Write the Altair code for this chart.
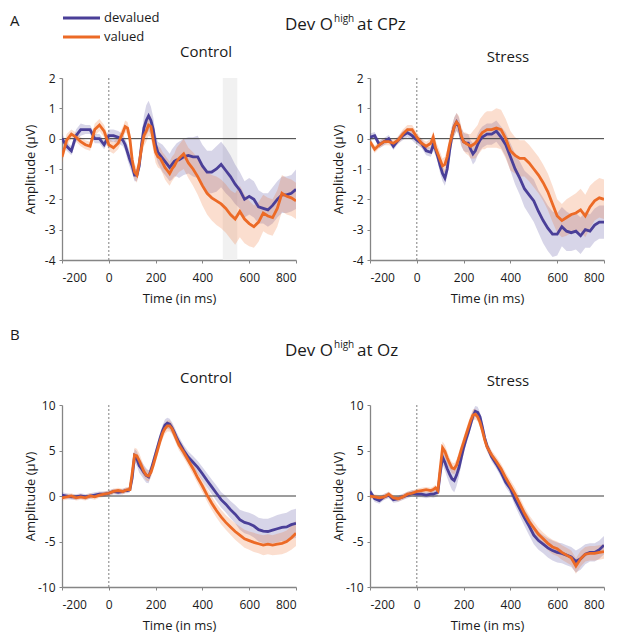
import altair as alt
import pandas as pd

# ---------------- data ----------------
T = [-200, -180, -160, -140, -120, -100, -80, -60, -40, -20, 0, 20, 40, 60,
     70, 80, 90, 100, 110, 120, 130, 140, 150, 160, 170, 180, 190, 200, 210, 220,
     230, 240, 250, 260, 270, 280, 290, 300,
     320, 340, 360, 380, 400, 420, 440, 460, 480, 500, 520, 540, 560, 580, 600,
     620, 640, 660, 680, 700, 720, 740, 760, 780, 800]

# A: CPz, Control
A_CTRL_DEV = [0.0, -0.25, -0.4, 0.1, 0.3, 0.3, 0.3, 0.0, 0.0, -0.2, 0.1, 0.1, 0.05, -0.05,
              -0.2, -0.45, -0.7, -0.9, -1.2, -1.2, -0.9, -0.2, 0.35, 0.6, 0.75, 0.6, 0.3, -0.2, -0.45, -0.55,
              -0.65, -0.75, -0.85, -0.95, -0.85, -0.75, -0.7, -0.7,
              -0.6, -0.55, -0.6, -0.6, -0.9, -1.1, -1.1, -1.0, -0.85, -1.05, -1.25, -1.5, -1.7, -2.0, -1.9,
              -2.0, -2.25, -2.3, -2.35, -2.2, -2.0, -1.85, -1.85, -1.8, -1.67]
A_CTRL_DEV_SE = [0.15, 0.15, 0.15, 0.2, 0.2, 0.15, 0.15, 0.15, 0.15, 0.15, 0.2, 0.2, 0.2, 0.2,
                 0.2, 0.25, 0.25, 0.25, 0.2, 0.2, 0.25, 0.3, 0.4, 0.5, 0.5, 0.45, 0.4, 0.35, 0.35, 0.4,
                 0.45, 0.45, 0.45, 0.45, 0.5, 0.5, 0.55, 0.6,
                 0.6, 0.6, 0.65, 0.7, 0.7, 0.7, 0.7, 0.75, 0.75, 0.75, 0.7, 0.65, 0.6, 0.6, 0.6,
                 0.6, 0.55, 0.5, 0.55, 0.6, 0.6, 0.6, 0.6, 0.6, 0.65]
A_CTRL_VAL = [-0.6, -0.05, 0.15, 0.05, -0.1, -0.2, -0.25, 0.3, 0.45, 0.25, -0.2, -0.3, -0.15, 0.2,
              0.4, 0.35, 0.0, -0.7, -1.1, -1.2, -0.8, -0.3, 0.1, 0.25, 0.45, 0.4, -0.05, -0.45, -0.6, -0.65,
              -0.8, -0.95, -1.05, -1.15, -1.0, -0.9, -0.75, -0.65,
              -0.5, -0.8, -1.0, -1.25, -1.55, -1.8, -1.95, -2.05, -2.15, -2.3, -2.5, -2.65, -2.4, -2.65, -2.8,
              -2.9, -2.75, -2.45, -2.55, -2.6, -2.3, -1.8, -1.9, -1.95, -2.05]
A_CTRL_VAL_SE = [0.2, 0.2, 0.15, 0.15, 0.15, 0.15, 0.15, 0.2, 0.2, 0.2, 0.2, 0.2, 0.2, 0.2,
                 0.2, 0.2, 0.25, 0.25, 0.25, 0.25, 0.25, 0.3, 0.35, 0.35, 0.35, 0.35, 0.35, 0.35, 0.35, 0.35,
                 0.35, 0.4, 0.4, 0.4, 0.4, 0.4, 0.45, 0.45,
                 0.5, 0.5, 0.55, 0.6, 0.65, 0.7, 0.75, 0.8, 0.8, 0.8, 0.8, 0.85, 0.85, 0.8, 0.75,
                 0.7, 0.65, 0.6, 0.6, 0.6, 0.6, 0.6, 0.6, 0.6, 0.6]

# A: CPz, Stress
A_STR_DEV = [0.05, 0.1, -0.2, -0.1, 0.0, -0.25, -0.05, 0.1, 0.2, 0.1, -0.05, -0.15, -0.4, -0.45,
             -0.2, -0.35, -0.6, -0.9, -1.15, -1.3, -1.0, -0.4, 0.1, 0.4, 0.55, 0.4, 0.05, -0.1, -0.15, -0.15,
             -0.35, -0.5, -0.4, -0.2, -0.05, 0.05, 0.1, 0.15,
             0.15, 0.25, 0.05, -0.2, -0.6, -1.0, -1.3, -1.65, -1.85, -2.05, -2.4, -2.7, -2.95, -3.15, -3.15,
             -2.9, -3.05, -3.1, -3.05, -3.2, -3.0, -3.05, -2.85, -2.75, -2.75]
A_STR_DEV_SE = [0.12, 0.12, 0.12, 0.12, 0.12, 0.12, 0.12, 0.15, 0.15, 0.15, 0.15, 0.15, 0.15, 0.15,
                0.2, 0.2, 0.2, 0.25, 0.25, 0.25, 0.25, 0.3, 0.3, 0.3, 0.3, 0.3, 0.3, 0.3, 0.3, 0.3,
                0.3, 0.35, 0.35, 0.35, 0.35, 0.35, 0.35, 0.35,
                0.35, 0.35, 0.35, 0.4, 0.45, 0.5, 0.55, 0.6, 0.65, 0.7, 0.7, 0.75, 0.75, 0.75, 0.7,
                0.65, 0.65, 0.6, 0.6, 0.6, 0.6, 0.55, 0.55, 0.55, 0.55]
A_STR_VAL = [-0.1, -0.35, -0.2, -0.1, -0.1, -0.15, -0.05, 0.15, 0.3, 0.3, 0.05, -0.15, -0.25, -0.15,
             0.05, -0.3, -0.5, -0.7, -0.9, -0.85, -0.6, -0.2, 0.1, 0.4, 0.55, 0.45, 0.1, -0.1, -0.15, -0.2,
             -0.25, -0.2, -0.15, -0.05, 0.1, 0.2, 0.25, 0.3,
             0.3, 0.35, 0.3, 0.0, -0.4, -0.55, -0.65, -0.65, -0.8, -1.0, -1.2, -1.45, -1.75, -2.15, -2.55,
             -2.7, -2.6, -2.5, -2.45, -2.35, -2.55, -2.25, -2.05, -1.95, -2.0]
A_STR_VAL_SE = [0.12, 0.12, 0.12, 0.12, 0.12, 0.12, 0.12, 0.15, 0.15, 0.15, 0.15, 0.15, 0.15, 0.15,
                0.2, 0.25, 0.25, 0.25, 0.25, 0.25, 0.25, 0.3, 0.3, 0.3, 0.3, 0.3, 0.3, 0.3, 0.35, 0.35,
                0.4, 0.45, 0.5, 0.5, 0.55, 0.55, 0.6, 0.6,
                0.6, 0.65, 0.65, 0.65, 0.65, 0.6, 0.6, 0.6, 0.6, 0.6, 0.6, 0.6, 0.6, 0.6, 0.55,
                0.55, 0.6, 0.6, 0.65, 0.7, 0.7, 0.7, 0.65, 0.65, 0.65]

# B: Oz, Control
B_CTRL_DEV = [0.1, 0.0, -0.1, -0.1, 0.0, -0.1, 0.0, 0.1, 0.2, 0.2, 0.3, 0.5, 0.4, 0.5,
              0.6, 0.6, 0.7, 2.0, 4.4, 4.1, 3.35, 3.0, 2.6, 2.25, 2.1, 2.8, 3.7, 4.6, 5.5, 6.4,
              7.2, 7.8, 8.0, 7.9, 7.5, 7.0, 6.4, 5.9,
              5.0, 4.25, 3.7, 3.15, 2.45, 1.7, 1.0, 0.3, -0.4, -0.9, -1.5, -2.0, -2.6, -2.9, -3.05,
              -3.3, -3.7, -3.85, -3.9, -3.75, -3.6, -3.45, -3.4, -3.15, -3.0]
B_CTRL_DEV_SE = [0.3, 0.3, 0.3, 0.3, 0.3, 0.3, 0.3, 0.3, 0.3, 0.3, 0.3, 0.3, 0.3, 0.3,
                 0.3, 0.3, 0.3, 0.5, 0.8, 0.8, 0.8, 0.8, 0.8, 0.8, 0.7, 0.6, 0.6, 0.6, 0.6, 0.6,
                 0.6, 0.6, 0.6, 0.6, 0.6, 0.6, 0.6, 0.6,
                 0.6, 0.65, 0.7, 0.7, 0.75, 0.8, 0.8, 0.85, 0.85, 0.9, 0.95, 1.0, 1.1, 1.2, 1.2,
                 1.25, 1.3, 1.35, 1.4, 1.45, 1.5, 1.5, 1.55, 1.6, 1.6]
B_CTRL_VAL = [-0.2, -0.1, 0.0, -0.2, -0.1, -0.2, 0.0, -0.1, 0.1, 0.2, 0.3, 0.5, 0.6, 0.5,
              0.6, 0.7, 0.7, 2.5, 4.5, 4.4, 3.9, 3.3, 2.7, 2.3, 2.2, 2.6, 3.4, 4.3, 5.2, 6.1,
              6.9, 7.4, 7.7, 7.7, 7.4, 6.8, 6.2, 5.6,
              4.8, 3.9, 3.0, 2.0, 1.1, 0.1, -0.8, -1.6, -2.3, -2.9, -3.4, -3.9, -4.3, -4.7, -4.9,
              -5.1, -5.25, -5.4, -5.3, -5.4, -5.3, -5.2, -5.0, -4.6, -4.1]
B_CTRL_VAL_SE = [0.3, 0.3, 0.3, 0.3, 0.3, 0.3, 0.3, 0.3, 0.3, 0.3, 0.3, 0.3, 0.3, 0.3,
                 0.3, 0.3, 0.3, 0.5, 0.8, 0.8, 0.8, 0.7, 0.6, 0.6, 0.6, 0.6, 0.6, 0.6, 0.6, 0.6,
                 0.6, 0.6, 0.6, 0.6, 0.6, 0.6, 0.6, 0.6,
                 0.6, 0.6, 0.65, 0.65, 0.7, 0.7, 0.75, 0.75, 0.8, 0.8, 0.85, 0.9, 0.95, 1.0, 1.0,
                 1.05, 1.05, 1.1, 1.1, 1.1, 1.15, 1.2, 1.2, 1.3, 1.4]

# B: Oz, Stress
B_STR_DEV = [0.5, -0.3, -0.5, -0.1, 0.1, -0.4, -0.3, -0.1, 0.1, 0.3, 0.2, 0.2, 0.1, 0.2,
             0.2, 0.3, 0.4, 2.5, 4.3, 3.7, 3.0, 2.4, 1.9, 1.7, 2.3, 3.1, 4.2, 5.3, 6.2, 7.0,
             7.9, 8.8, 9.3, 9.2, 8.7, 7.6, 6.4, 5.5,
             4.3, 3.5, 2.6, 1.5, 0.8, -0.4, -1.4, -2.4, -3.3, -4.3, -4.9, -5.3, -5.7, -6.0, -6.2,
             -6.3, -6.5, -6.7, -7.2, -6.9, -6.4, -6.2, -6.2, -5.9, -5.4]
B_STR_DEV_SE = [0.35, 0.35, 0.35, 0.35, 0.35, 0.35, 0.35, 0.35, 0.35, 0.35, 0.35, 0.35, 0.35, 0.35,
                0.4, 0.4, 0.4, 0.6, 0.8, 0.9, 1.0, 1.1, 1.2, 1.3, 1.2, 1.0, 0.8, 0.7, 0.6, 0.6,
                0.6, 0.6, 0.6, 0.6, 0.5, 0.5, 0.5, 0.5,
                0.5, 0.5, 0.5, 0.55, 0.6, 0.7, 0.8, 0.9, 1.0, 1.0, 1.0, 1.0, 1.05, 1.1, 1.1,
                1.1, 1.1, 1.1, 1.2, 1.2, 1.1, 1.0, 1.0, 1.0, 1.0]
B_STR_VAL = [0.0, -0.1, -0.2, -0.1, 0.2, -0.2, -0.3, -0.1, 0.2, 0.3, 0.5, 0.6, 0.7, 0.6,
             0.7, 0.9, 0.6, 3.0, 5.3, 4.9, 4.2, 3.6, 3.1, 3.0, 3.4, 4.2, 5.1, 5.9, 6.7, 7.5,
             8.3, 8.9, 9.0, 8.7, 8.1, 7.2, 6.2, 5.4,
             4.5, 3.8, 3.0, 2.0, 1.1, 0.2, -0.85, -1.9, -2.8, -3.5, -4.2, -4.7, -5.2, -5.6, -5.8,
             -6.2, -6.5, -6.8, -7.7, -6.9, -6.4, -6.3, -6.3, -6.2, -6.1]
B_STR_VAL_SE = [0.3, 0.3, 0.3, 0.3, 0.3, 0.3, 0.3, 0.3, 0.3, 0.3, 0.3, 0.3, 0.3, 0.3,
                0.35, 0.35, 0.35, 0.5, 0.7, 0.7, 0.7, 0.6, 0.6, 0.6, 0.6, 0.6, 0.6, 0.6, 0.6, 0.6,
                0.6, 0.6, 0.6, 0.5, 0.5, 0.5, 0.5, 0.5,
                0.5, 0.5, 0.55, 0.6, 0.65, 0.7, 0.7, 0.7, 0.7, 0.7, 0.7, 0.7, 0.75, 0.8, 0.8,
                0.8, 0.8, 0.8, 0.85, 0.85, 0.8, 0.8, 0.8, 0.8, 0.8]

SERIES = ["devalued", "valued"]
X_TICKS = [-200, 0, 200, 400, 600, 800]
Y_TICKS_A = [-4, -3, -2, -1, 0, 1, 2]
Y_TICKS_B = [-10, -5, 0, 5, 10]
Y_DOM_A = [-4, 2]
Y_DOM_B = [-10, 10]
SHADE_A_CTRL = [487, 549]   # grey window in ms

# ---------------- styling ----------------
PURPLE = "#4a3f98"
ORANGE = "#ec6a26"
FONT = "Open Sans"
TXT = "#1a1a1a"
W, H = 234, 182

color_scale = alt.Scale(domain=SERIES, range=[PURPLE, ORANGE])


def panel_df(dev, dev_se, val, val_se):
    rows = []
    for name, v, s in (("devalued", dev, dev_se), ("valued", val, val_se)):
        for t, y, e in zip(T, v, s):
            rows.append({"time": t, "series": name, "amp": y, "lo": y - e, "hi": y + e})
    return pd.DataFrame(rows)


x_scale = alt.Scale(domain=[-200, 800], nice=False, zero=False)


def text_layer(label, x, y, size, align="center", baseline="alphabetic"):
    return alt.Chart(pd.DataFrame({"label": [label]})).mark_text(
        align=align, baseline=baseline, fontSize=size, font=FONT, color=TXT
    ).encode(text="label:N", x=alt.value(x), y=alt.value(y))


def legend_layers():
    out = []
    for i, name in enumerate(SERIES):
        d = pd.DataFrame({"series": [name]})
        y = -60 + 19 * i
        out.append(alt.Chart(d).mark_rule(strokeWidth=3).encode(
            x=alt.value(1), x2=alt.value(38), y=alt.value(y),
            stroke=alt.Stroke("series:N", scale=color_scale, legend=None)))
        out.append(alt.Chart(d).mark_text(align="left", baseline="middle", fontSize=13,
                                          font=FONT, color=TXT).encode(
            text="series:N", x=alt.value(42), y=alt.value(y)))
    return out


def panel(df, ydom, yticks, texts, shade=None, legend=False):
    y_scale = alt.Scale(domain=ydom, nice=False, zero=False)
    xax = alt.Axis(values=X_TICKS, title="Time (in ms)", labelExpr="'' + datum.value",
                   labelPadding=9, titlePadding=9)
    yax = alt.Axis(values=yticks, title="Amplitude (μV)", labelExpr="'' + datum.value",
                   labelPadding=4, titleX=-32, titleY=H / 2, titleBaseline="middle",
                   titleAlign="center", titleAngle=270)

    def X(f):
        return alt.X(f, type="quantitative", scale=x_scale, axis=xax)

    def Y(f):
        return alt.Y(f, type="quantitative", scale=y_scale, axis=yax)

    layers = []
    if shade:
        sdf = pd.DataFrame({"s": [shade[0]], "e": [shade[1]], "y1": [ydom[1]], "y2": [ydom[0]]})
        layers.append(alt.Chart(sdf).mark_rect(color="#f1f1f1").encode(
            x=X("s"), x2="e", y=Y("y1"), y2="y2"))
    base = alt.Chart(df)
    layers.append(base.mark_area(opacity=0.22, clip=True).encode(
        x=X("time"), y=Y("lo"), y2="hi",
        fill=alt.Fill("series:N", scale=color_scale, legend=None),
    ))
    zdf = pd.DataFrame({"z": [0]})
    layers.append(alt.Chart(zdf).mark_rule(color="#3a3a3a", strokeWidth=1).encode(y=Y("z")))
    layers.append(alt.Chart(zdf).mark_rule(color="#8a8a8a", strokeWidth=1.1, strokeDash=[2, 2]).encode(x=X("z")))
    layers.append(base.mark_line(strokeWidth=2.8, clip=True).encode(
        x=X("time"), y=Y("amp"),
        stroke=alt.Stroke("series:N", scale=color_scale, legend=None),
    ))
    for t in texts:
        layers.append(text_layer(*t))
    if legend:
        layers.extend(legend_layers())
    return alt.layer(*layers).properties(width=W, height=H)


A_ctrl = panel(panel_df(A_CTRL_DEV, A_CTRL_DEV_SE, A_CTRL_VAL, A_CTRL_VAL_SE), Y_DOM_A, Y_TICKS_A,
               [("A", -52, -64, 15, "left", "top"),
                ("Dev O", 271, -48, 17, "right"),
                ("high", 272, -56, 10, "left"),
                ("at CPz", 295, -48, 17, "left"),
                ("Control", 144, -21, 15)],
               shade=SHADE_A_CTRL, legend=True)
A_str = panel(panel_df(A_STR_DEV, A_STR_DEV_SE, A_STR_VAL, A_STR_VAL_SE), Y_DOM_A, Y_TICKS_A,
              [("Stress", 138, -16, 15)])
B_ctrl = panel(panel_df(B_CTRL_DEV, B_CTRL_DEV_SE, B_CTRL_VAL, B_CTRL_VAL_SE), Y_DOM_B, Y_TICKS_B,
               [("B", -52, -77, 15, "left", "top"),
                ("Dev O", 271, -49, 17, "right"),
                ("high", 272, -57, 10, "left"),
                ("at Oz", 295, -49, 17, "left"),
                ("Control", 144, -22, 15)])
B_str = panel(panel_df(B_STR_DEV, B_STR_DEV_SE, B_STR_VAL, B_STR_VAL_SE), Y_DOM_B, Y_TICKS_B,
              [("Stress", 138, -19, 15)])

rowA = alt.hconcat(A_ctrl, A_str, spacing=74, bounds="flush")
rowB = alt.hconcat(B_ctrl, B_str, spacing=74, bounds="flush")

chart = alt.vconcat(rowA, rowB, spacing=327, bounds="flush").properties(
    padding={"left": 2, "top": 4, "right": 0, "bottom": 0}
).configure_view(stroke=None).configure_axis(
    grid=False, domainColor="#858585", domainWidth=1.3, tickColor="#858585", tickSize=3,
    labelFont=FONT, labelFontSize=12, labelColor=TXT,
    titleFont=FONT, titleFontSize=13, titleFontWeight="normal", titleColor=TXT,
)

chart.save("out.html", embed_options={"renderer": "svg", "actions": False})
